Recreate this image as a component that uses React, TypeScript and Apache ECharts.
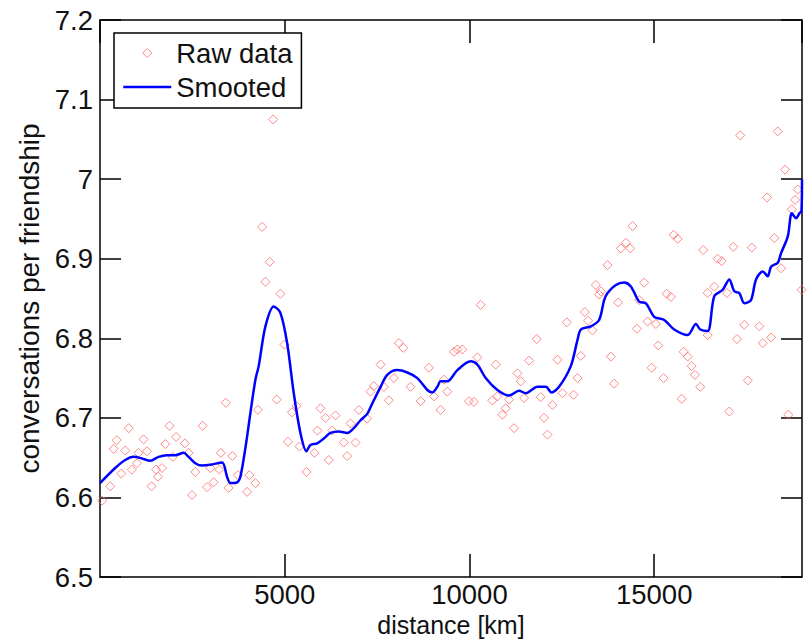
import React, { useEffect, useRef } from "react";
import * as echarts from "echarts";

// ---- Data ----
const rawDistance = [
  60, 276, 778, 453, 371, 683, 575, 859, 1043, 1000, 1179, 1271, 1396, 1518, 1569, 1677,
  1767, 1881, 2060, 1970, 2298, 2398, 2778, 2580, 2490, 2897, 3076, 2986, 3230, 3271,
  3406, 3583, 3482, 3732, 4043, 3981, 4206, 4274, 4783, 5195, 5087, 5398, 5588, 4686,
  4387, 4593, 4477, 4883, 4992, 5317, 5805, 5967, 6103, 6374, 6285, 5886, 6192, 6691,
  6599, 6916, 6780, 7005, 7228, 7322, 7412, 7594, 7683, 7818, 7954, 8089, 8209, 8407,
  8678, 8902, 9038, 9309, 9401, 9220, 9580, 9672, 9807, 9986, 10122, 10214, 10303, 10620,
  10710, 10756, 10981, 10891, 11071, 11206, 11298, 11387, 11477, 11612, 11821, 11929,
  12019, 12111, 12246, 12382, 12517, 12634, 12816, 12924, 13013, 13122, 13211, 13330,
  13420, 13555, 13509, 13737, 13827, 13916, 14024, 14097, 14233, 14349, 14414, 14531,
  14594, 14729, 14821, 14930, 15046, 15109, 15254, 15336, 15452, 15526, 15634, 15742,
  15797, 15905, 16013, 16103, 16246, 16328, 16447, 16447, 16626, 16718, 16826, 16970,
  17032, 17141, 17241, 17330, 17439, 17531, 17640, 17845, 17938, 18054, 18162, 18252,
  18344, 18434, 18542, 18632, 18723, 18886, 18813, 18990,
];
const rawConversations = [
  6.596, 6.614, 6.687, 6.672, 6.661, 6.659, 6.63, 6.635, 6.656, 6.643, 6.673, 6.658, 6.614, 6.635, 6.626, 6.637,
  6.667, 6.69, 6.676, 6.651, 6.668, 6.656, 6.69, 6.632, 6.603, 6.613, 6.619, 6.637, 6.635, 6.656,
  6.719, 6.652, 6.612, 6.628, 6.628, 6.607, 6.618, 6.71, 6.723, 6.707, 6.67, 6.664, 6.632, 7.075,
  6.94, 6.896, 6.871, 6.856, 6.792, 6.715, 6.656, 6.712, 6.7, 6.703, 6.684, 6.684, 6.647, 6.652,
  6.669, 6.669, 6.693, 6.71, 6.699, 6.733, 6.74, 6.767, 6.739, 6.722, 6.75, 6.794, 6.788, 6.739,
  6.721, 6.763, 6.727, 6.748, 6.733, 6.71, 6.783, 6.786, 6.786, 6.721, 6.72, 6.776, 6.842, 6.722,
  6.767, 6.727, 6.712, 6.704, 6.723, 6.687, 6.756, 6.746, 6.725, 6.772, 6.799, 6.726,
  6.7, 6.679, 6.716, 6.773, 6.731, 6.82, 6.729, 6.75, 6.778, 6.833, 6.822, 6.81,
  6.867, 6.859, 6.855, 6.892, 6.777, 6.743, 6.845, 6.913, 6.92, 6.913, 6.941, 6.812,
  6.848, 6.87, 6.821, 6.763, 6.818, 6.791, 6.75, 6.856, 6.852, 6.93, 6.925, 6.724,
  6.783, 6.777, 6.765, 6.754, 6.739, 6.911, 6.857, 6.804, 6.865, 6.9, 6.897, 6.857,
  6.708, 6.915, 6.799, 7.055, 6.817, 6.747, 6.914, 6.815, 6.794, 6.977, 6.801, 6.926,
  7.06, 6.888, 7.012, 6.704, 6.962, 6.987, 6.974, 6.861,
];

const smoothDistance = [
  0, 412, 683, 908, 1136, 1360, 1585, 1813, 2038, 2263, 2398, 2580, 2761, 2986, 3303, 3439,
  3528, 3710, 3799, 3935, 4070, 4206, 4295, 4477, 4702, 4883, 5065, 5244, 5425, 5588, 5696,
  5878, 6057, 6238, 6463, 6691, 6870, 7051, 7233, 7368, 7594, 7775, 8046, 8317, 8588, 8859,
  8994, 9130, 9220, 9401, 9672, 10032, 10214, 10439, 10756, 11071, 11342, 11523, 11840,
  12065, 12219, 12425, 12742, 12924, 13013, 13284, 13509, 13645, 13737, 13962, 14187,
  14368, 14594, 14776, 15000, 15271, 15542, 15905, 16130, 16246, 16447, 16626, 16853,
  17032, 17168, 17303, 17439, 17620, 17756, 17937, 18073, 18162, 18344, 18434, 18616,
  18724, 18840, 18930, 18985, 19000,
];
const smoothConversations = [
  6.618, 6.637, 6.647, 6.651, 6.649, 6.646, 6.651, 6.653, 6.653, 6.656, 6.651, 6.643, 6.64, 6.641, 6.644, 6.626,
  6.618, 6.619, 6.626, 6.662, 6.706, 6.748, 6.765, 6.815, 6.84, 6.832, 6.794, 6.731, 6.681, 6.658, 6.666,
  6.668, 6.674, 6.681, 6.683, 6.681, 6.687, 6.697, 6.705, 6.718, 6.739, 6.754, 6.76, 6.757, 6.75, 6.735,
  6.732, 6.739, 6.746, 6.746, 6.76, 6.771, 6.767, 6.75, 6.735, 6.728, 6.734, 6.731, 6.739,
  6.739, 6.732, 6.739, 6.765, 6.798, 6.811, 6.815, 6.823, 6.848, 6.857, 6.867, 6.87,
  6.865, 6.846, 6.844, 6.827, 6.823, 6.811, 6.804, 6.818, 6.811, 6.809, 6.853, 6.861,
  6.874, 6.859, 6.857, 6.844, 6.848, 6.874, 6.884, 6.878, 6.89, 6.895, 6.907, 6.928,
  6.957, 6.951, 6.957, 6.96, 7.0,
];

const xRange = [0, 19000];
const xStep = 5000;
const yRange = [6.5, 7.2];
const yStep = 0.1;

const seriesNames = ["Raw data", "Smooted"];
const xAxisTitle = "distance [km]";
const yAxisTitle = "conversations per friendship";

const FONT = "'Liberation Sans', Arial, Helvetica, sans-serif";
const TEXT = "#111";
const FS = 27.5;
const FS_TITLE = 28;
const FS_XTITLE = 25;
const RED = "#ff6a6a";
const BLUE = "#0000ff";

export default function App() {
  const ref = useRef<HTMLDivElement>(null);

  useEffect(() => {
    if (!ref.current) return;
    const chart = echarts.init(ref.current, undefined, { renderer: "svg" });

    const rawData = rawDistance.map((d, i) => [d, rawConversations[i]]);
    const smoothData = smoothDistance.map((d, i) => [d, smoothConversations[i]]);

    const axisLine = { show: true, onZero: false, lineStyle: { color: "#000", width: 1.5 } };

    const xBase = {
      type: "value",
      min: xRange[0],
      max: xRange[1],
      interval: xStep,
      splitLine: { show: false },
      axisLine,
    };
    const yBase = {
      type: "value",
      min: yRange[0],
      max: yRange[1],
      interval: yStep,
      splitLine: { show: false },
      axisLine,
    };

    chart.setOption({
      animation: false,
      backgroundColor: "#fff",
      grid: {
        left: 100,
        right: 6,
        top: 20,
        bottom: 63,
        containLabel: false,
        outerBoundsMode: "none",
      },
      legend: {
        show: true,
        orient: "vertical",
        left: 114,
        top: 33,
        padding: [6, 9, 7, 8],
        itemGap: 6,
        itemWidth: 48,
        itemHeight: 9,
        symbolKeepAspect: true,
        selectedMode: false,
        backgroundColor: "#fff",
        borderColor: "#000",
        borderWidth: 1.5,
        borderRadius: 0,
        textStyle: { fontSize: FS, fontFamily: FONT, color: TEXT },
        data: [
          {
            name: seriesNames[0],
            icon: "path://M5,0L10,5L5,10L0,5Z",
            itemStyle: { color: "rgba(255,255,255,0)", borderColor: RED, borderWidth: 1 },
          },
          {
            name: seriesNames[1],
            itemStyle: { opacity: 0 },
            lineStyle: { color: BLUE, width: 2.5 },
          },
        ],
      },
      xAxis: [
        {
          ...xBase,
          position: "bottom",
          name: xAxisTitle,
          nameLocation: "middle",
          nameGap: 25,
          nameTextStyle: { fontSize: FS_XTITLE, fontFamily: FONT, color: TEXT },
          axisTick: { show: true, inside: true, length: 23, lineStyle: { color: "#000", width: 1.5 } },
          axisLabel: {
            show: true,
            fontSize: FS,
            fontFamily: FONT,
            color: TEXT,
            margin: 3,
            showMinLabel: false,
            showMaxLabel: false,
            formatter: (v: number) => String(v),
          },
        },
        {
          ...xBase,
          position: "top",
          axisTick: { show: true, inside: true, length: 23, lineStyle: { color: "#000", width: 1.5 } },
          axisLabel: { show: false },
        },
      ],
      yAxis: [
        {
          ...yBase,
          position: "left",
          name: yAxisTitle,
          nameLocation: "middle",
          nameGap: 52,
          nameTextStyle: { fontSize: FS_TITLE, fontFamily: FONT, color: TEXT },
          axisTick: { show: true, inside: true, length: 21, lineStyle: { color: "#000", width: 1.5 } },
          axisLabel: {
            show: true,
            fontSize: FS,
            fontFamily: FONT,
            color: TEXT,
            margin: 7,
            formatter: (v: number) => String(+v.toFixed(1)),
          },
        },
        {
          ...yBase,
          position: "right",
          axisTick: { show: true, inside: true, length: 21, lineStyle: { color: "#000", width: 1.5 } },
          axisLabel: { show: false },
        },
      ],
      series: [
        {
          type: "scatter",
          name: seriesNames[0],
          data: rawData,
          symbol: "diamond",
          symbolSize: 9,
          itemStyle: { color: "rgba(255,255,255,0)", borderColor: RED, borderWidth: 1 },
          z: 2,
        },
        {
          type: "line",
          name: seriesNames[1],
          data: smoothData,
          symbol: "none",
          showSymbol: false,
          smooth: 0.3,
          lineStyle: { color: BLUE, width: 2.5 },
          itemStyle: { color: BLUE },
          z: 3,
        },
      ],
    });

    return () => {
      chart.dispose();
    };
  }, []);

  return (
    <div
      ref={ref}
      style={{ position: "absolute", left: 0, top: 0, width: 808, height: 640, background: "#fff" }}
    />
  );
}
